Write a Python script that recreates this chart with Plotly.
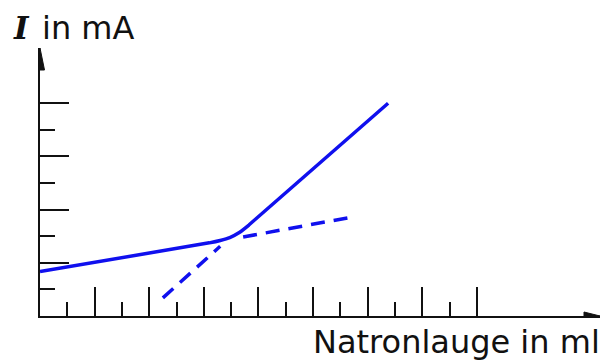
import plotly.graph_objects as go

# Titration curve: current vs. added sodium hydroxide (tick units)
curve_x = [0, 6.2, 6.6, 6.95, 7.3, 7.65, 12.75]
curve_y = [1.67, 2.75, 2.84, 2.95, 3.14, 3.42, 8.0]

# Extrapolation of the steep branch back below the equivalence point
steep_ext_x = [4.5, 6.6]
steep_ext_y = [0.68, 2.62]

# Extrapolation of the flat branch beyond the equivalence point
flat_ext_x = [7.44, 11.43]
flat_ext_y = [2.97, 3.72]

x_major = [2, 4, 6, 8, 10, 12, 14, 16]
x_minor = [1, 3, 5, 7, 9, 11, 13, 15]
y_major = [2, 4, 6, 8]
y_minor = [1, 3, 5, 7]

X_MAX = 20.51
Y_MAX = 10.075
BLUE = "#1010ee"
INK = "#111111"

fig = go.Figure()
fig.add_trace(go.Scatter(x=curve_x, y=curve_y, mode="lines",
                         line=dict(color=BLUE, width=3.5, shape="spline", smoothing=0.4)))
fig.add_trace(go.Scatter(x=steep_ext_x, y=steep_ext_y, mode="lines",
                         line=dict(color=BLUE, width=3.5, dash="14px,9px")))
fig.add_trace(go.Scatter(x=flat_ext_x, y=flat_ext_y, mode="lines",
                         line=dict(color=BLUE, width=3.5, dash="14px,9px")))

axis_common = dict(
    showgrid=False, zeroline=False, showticklabels=False,
    showline=True, linecolor=INK, linewidth=2.2,
    ticks="inside", tickmode="array", ticklen=29, tickwidth=1.6, tickcolor=INK,
    fixedrange=True,
)

fig.update_layout(
    width=602, height=362,
    margin=dict(l=40, r=2, t=48, b=46),
    paper_bgcolor="white", plot_bgcolor="white",
    showlegend=False,
    xaxis=dict(range=[0, X_MAX], tickvals=x_major,
               minor=dict(tickmode="array", tickvals=x_minor, ticks="inside",
                          ticklen=14, tickwidth=1.6, tickcolor=INK),
               **axis_common),
    yaxis=dict(range=[0, Y_MAX], tickvals=y_major,
               minor=dict(tickmode="array", tickvals=y_minor, ticks="inside",
                          ticklen=15, tickwidth=1.6, tickcolor=INK),
               **axis_common),
    shapes=[
        # arrowhead on the current axis
        dict(type="path", xref="x", yref="paper", xsizemode="pixel", ysizemode="pixel",
             xanchor=0, yanchor=1, path="M-4.5,-22 L0,0 L4.5,-22 Z",
             fillcolor=INK, line=dict(color=INK, width=1)),
        # arrowhead on the volume axis
        dict(type="path", xref="paper", yref="y", xsizemode="pixel", ysizemode="pixel",
             xanchor=1, yanchor=0, path="M-16,-4 L0,0 L-16,4 Z",
             fillcolor=INK, line=dict(color=INK, width=1)),
    ],
    annotations=[
        dict(text="<b><i>I</i></b>", x=-0.052, y=1.075, xref="paper", yref="paper",
             xanchor="left", yanchor="middle", showarrow=False,
             font=dict(family="DejaVu Serif", size=31, color=INK)),
        dict(text="in mA", x=0.0, y=1.075, xref="paper", yref="paper",
             xanchor="left", yanchor="middle", showarrow=False,
             font=dict(family="DejaVu Sans", size=32, color=INK)),
        dict(text="Natronlauge in ml", x=0.484, y=-0.097, xref="paper", yref="paper",
             xanchor="left", yanchor="middle", showarrow=False,
             font=dict(family="DejaVu Sans", size=32, color=INK)),
    ],
)

fig.write_html("out.html")
